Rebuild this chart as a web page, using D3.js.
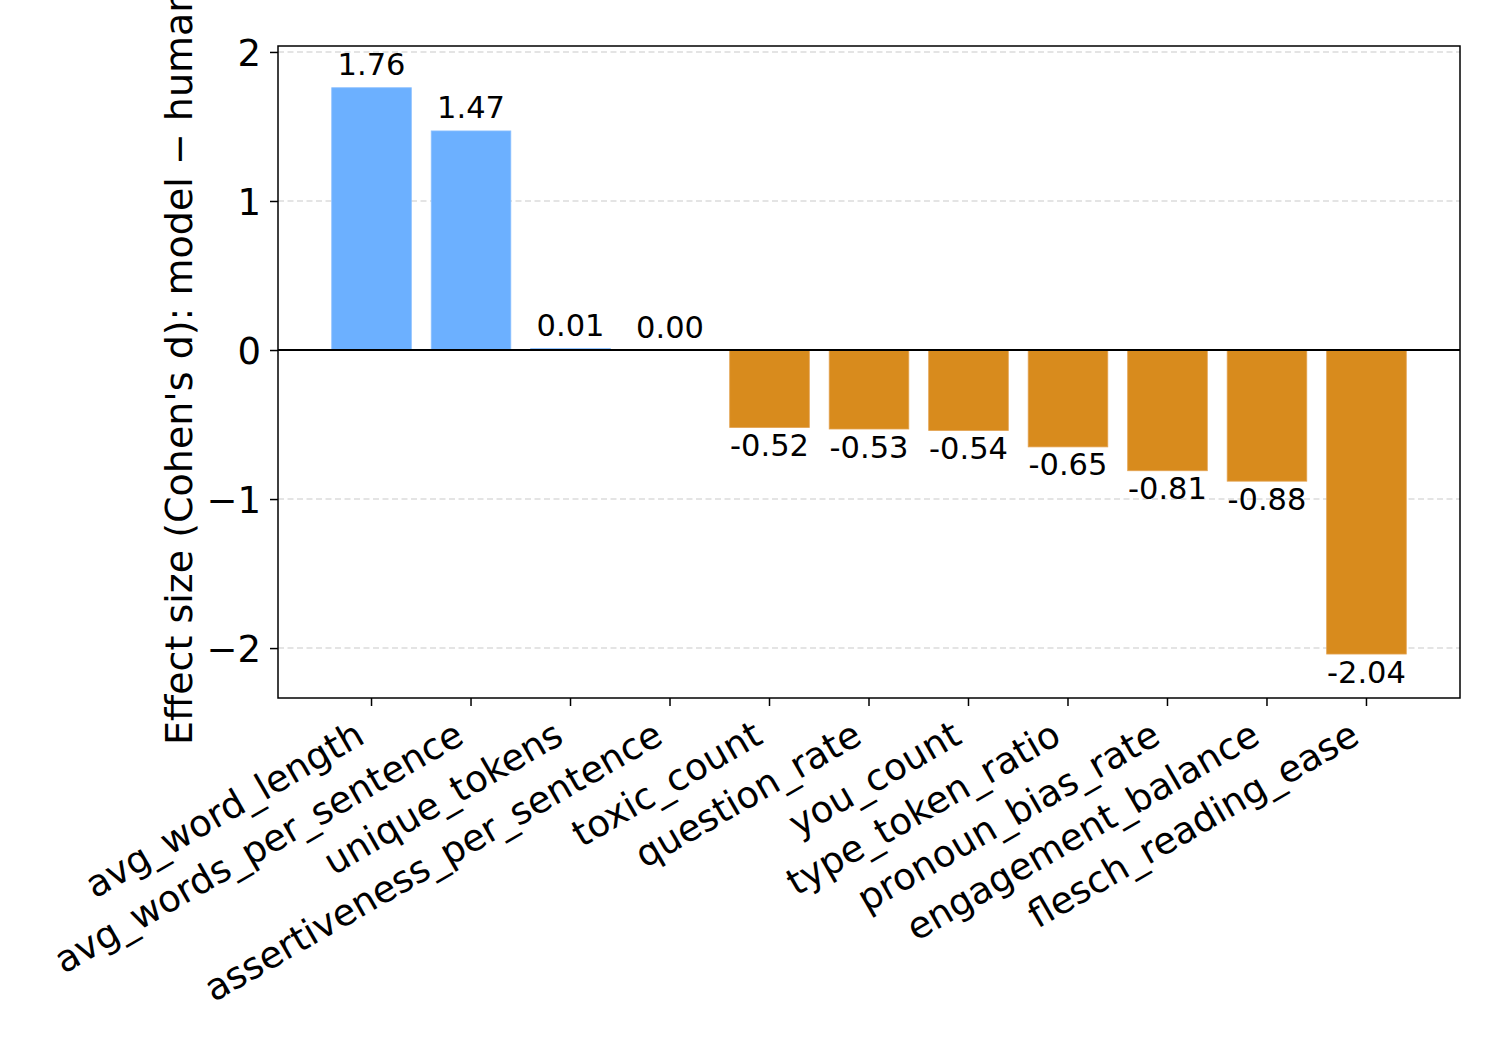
<!DOCTYPE html>
<html>
<head>
<meta charset="utf-8">
<script src="https://cdn.jsdelivr.net/npm/d3@7"></script>
<style>
  body { margin: 0; background: #fff; }
  text { font-family: "DejaVu Sans", sans-serif; fill: #000; }
</style>
</head>
<body>
<div id="chart"></div>
<script>
// chart data
const features = ["avg_word_length", "avg_words_per_sentence", "unique_tokens", "assertiveness_per_sentence",
  "toxic_count", "question_rate", "you_count", "type_token_ratio", "pronoun_bias_rate",
  "engagement_balance", "flesch_reading_ease"];
const effects = [1.76, 1.47, 0.01, 0.00, -0.52, -0.53, -0.54, -0.65, -0.81, -0.88, -2.04];
const yTicks = [-2, -1, 0, 1, 2];
const yLabel = "Effect size (Cohen's d): model \u2212 human";

const W = 1500, H = 1050;
const margin = {top: 46, right: 40, bottom: 352, left: 278};
const width = W - margin.left - margin.right;
const height = H - margin.top - margin.bottom;

const svg = d3.select("#chart").append("svg")
  .attr("width", W).attr("height", H);
const g = svg.append("g").attr("transform", `translate(${margin.left},${margin.top})`);

// matplotlib-like x limits around the bar positions
const n = features.length;
const xLin = d3.scaleLinear().domain([-0.94, n - 1 + 0.94]).range([0, width]);
const barW = xLin(0.4) - xLin(-0.4);
const y = d3.scaleLinear().domain([-2.335, 2.04]).range([height, 0]);

// grid
g.append("g").selectAll("line").data(yTicks).join("line")
  .attr("x1", 0).attr("x2", width)
  .attr("y1", d => y(d)).attr("y2", d => y(d))
  .attr("stroke", "#dcdcdc").attr("stroke-width", 1.5).attr("stroke-dasharray", "6,3.5");

// bars
g.append("g").selectAll("rect").data(effects).join("rect")
  .attr("x", (d, i) => xLin(i) - barW / 2)
  .attr("width", barW)
  .attr("y", d => y(Math.max(0, d)))
  .attr("height", d => Math.max(Math.abs(y(d) - y(0)), d === 0 ? 0 : 1.5))
  .attr("fill", d => d >= 0 ? "#6cb0ff" : "#d88b1d")
  .attr("stroke", d => d >= 0 ? "#8cc0ff" : "#e3a250")
  .attr("stroke-width", 0.8);

// zero line
g.append("line").attr("x1", 0).attr("x2", width)
  .attr("y1", y(0)).attr("y2", y(0)).attr("stroke", "#000").attr("stroke-width", 2);

// value labels
g.append("g").selectAll("text").data(effects).join("text")
  .attr("x", (d, i) => xLin(i))
  .attr("y", d => d >= 0 ? y(d) - 12.5 : y(d) + 28.5)
  .attr("text-anchor", "middle")
  .attr("font-size", 30.5)
  .text(d => d.toFixed(2));

// axes
const yAxis = g.append("g")
  .call(d3.axisLeft(y).tickValues(yTicks).tickSize(8).tickPadding(9)
    .tickFormat(d => d < 0 ? "\u2212" + Math.abs(d) : d));
yAxis.select(".domain").remove();
yAxis.selectAll("line").attr("stroke", "#000").attr("stroke-width", 1.5);
yAxis.selectAll("text").attr("font-size", 37).attr("dy", "0.36em");

const xAxis = g.append("g").attr("transform", `translate(0,${height})`);
xAxis.selectAll("line").data(features).join("line")
  .attr("x1", (d, i) => xLin(i)).attr("x2", (d, i) => xLin(i))
  .attr("y1", 0).attr("y2", 8).attr("stroke", "#000").attr("stroke-width", 1.5);
xAxis.selectAll("text").data(features).join("text")
  .attr("transform", (d, i) => `translate(${xLin(i) - 5},${44}) rotate(-30)`)
  .attr("text-anchor", "end")
  .attr("font-size", 37)
  .text(d => d);

// frame
g.append("rect").attr("width", width).attr("height", height)
  .attr("fill", "none").attr("stroke", "#000").attr("stroke-width", 1.5);

// y label (starts near the bottom, runs off the top like the original)
svg.append("text")
  .attr("transform", `translate(192,745) rotate(-90)`)
  .attr("text-anchor", "start")
  .attr("font-size", 38)
  .text(yLabel);
</script>
</body>
</html>
